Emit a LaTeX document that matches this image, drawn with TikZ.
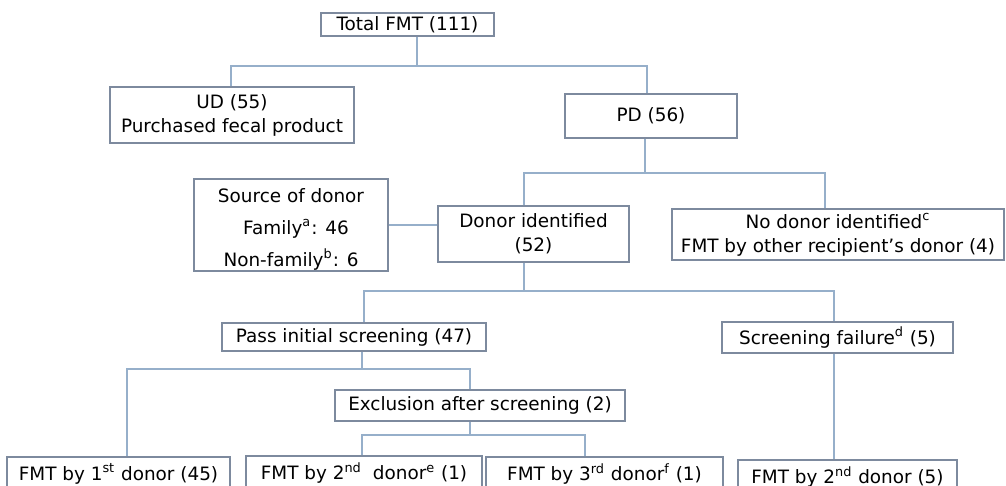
\documentclass[tikz,border=0pt]{standalone}
\usepackage{fontspec}
\setmainfont{DejaVu Sans}
\definecolor{boxc}{RGB}{125,138,158}
\definecolor{linec}{RGB}{150,175,202}
\tikzset{
  box/.style={draw=boxc, line width=0.7pt, inner sep=0pt, align=center,
    font=\fontsize{9.2}{12}\selectfont, text=black},
  conn/.style={draw=linec, line width=0.7pt},
}
\begin{document}
\begin{tikzpicture}[x=0.5pt,y=-0.5pt]
\clip (0,0) rectangle (1006,486);
\fill[white] (0,0) rectangle (1006,486);
% boxes
\node[box, minimum width=86.5pt, minimum height=11.5pt] (total) at (407.5,24.5) {Total FMT (111)};
\node[box, minimum width=122pt, minimum height=28pt] (ud) at (232,115) {UD (55)\\Purchased fecal product};
\node[box, minimum width=86pt, minimum height=22pt] (pd) at (651,116) {PD (56)};
\node[box, minimum width=97pt, minimum height=46pt] (src) at (291,225) {\rule{0pt}{11pt}Source of donor\\[4pt]\hspace*{5pt}Family\textsuperscript{a}: 46\\[4pt]Non-family\textsuperscript{b}: 6};
\node[box, minimum width=95.5pt, minimum height=28pt] (donor) at (533.5,234) {Donor identified\\(52)};
\node[box, minimum width=166pt, minimum height=25.5pt] (nodonor) at (838,234.5) {No donor identified\textsuperscript{c}\\FMT by other recipient’s donor (4)};
\node[box, minimum width=132pt, minimum height=14pt] (pass) at (354,337) {Pass initial screening (47)};
\node[box, minimum width=115.5pt, minimum height=15.5pt] (fail) at (837.5,337.5) {Screening failure\textsuperscript{d} (5)};
\node[box, minimum width=145pt, minimum height=15.5pt] (excl) at (480,405.5) {Exclusion after screening (2)};
\node[box, minimum width=111.5pt, minimum height=17pt] (b1) at (118.5,474) {FMT by 1\textsuperscript{st} donor (45)};
\node[box, minimum width=118pt, minimum height=17pt] (b2) at (364,473) {FMT by 2\textsuperscript{nd}\hspace{0.6em}donor\textsuperscript{e} (1)};
\node[box, minimum width=118.5pt, minimum height=17pt] (b3) at (604.5,474) {FMT by 3\textsuperscript{rd} donor\textsuperscript{f} (1)};
\node[box, minimum width=109.5pt, minimum height=17pt] (b4) at (847.5,477) {FMT by 2\textsuperscript{nd} donor (5)};
% junction coordinates
\coordinate (p1) at (417,66);  \coordinate (l1) at (231,66);  \coordinate (r1) at (647,66);
\coordinate (p2) at (645,173); \coordinate (l2) at (524,173); \coordinate (r2) at (825,173);
\coordinate (p3) at (524,291); \coordinate (l3) at (364,291); \coordinate (r3) at (834,291);
\coordinate (p4) at (362,369); \coordinate (l4) at (127,369); \coordinate (r4) at (470,369);
\coordinate (p5) at (470,435); \coordinate (l5) at (362,435); \coordinate (r5) at (585,435);
\coordinate (p6) at (834,400);
% connectors
\draw[conn] (total.south -| p1) -- (p1);
\draw[conn] (ud.north -| l1) -- (l1) -- (r1) -- (pd.north -| r1);
\draw[conn] (pd.south -| p2) -- (p2);
\draw[conn] (donor.north -| l2) -- (l2) -- (r2) -- (nodonor.north -| r2);
\draw[conn] (src.east) -- (src.east -| donor.west);
\draw[conn] (donor.south -| p3) -- (p3);
\draw[conn] (pass.north -| l3) -- (l3) -- (r3) -- (fail.north -| r3);
\draw[conn] (pass.south -| p4) -- (p4);
\draw[conn] (b1.north -| l4) -- (l4) -- (r4) -- (excl.north -| r4);
\draw[conn] (excl.south -| p5) -- (p5);
\draw[conn] (b2.north -| l5) -- (l5) -- (r5) -- (b3.north -| r5);
\draw[conn] (fail.south -| p6) -- (b4.north -| p6);
\end{tikzpicture}
\end{document}
